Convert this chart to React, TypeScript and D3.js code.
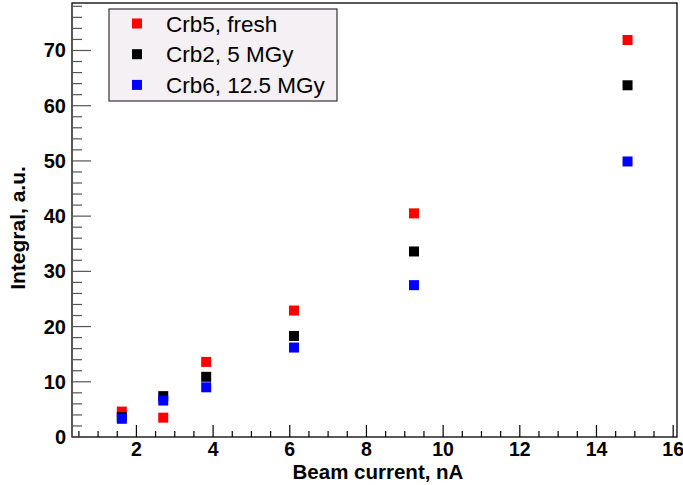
import React from 'react'
import * as d3 from 'd3'

// beam current, nA
const current = [1.62, 2.7, 3.82, 6.11, 9.24, 14.81]
// integral, a.u.
const fresh = [4.6, 3.5, 13.6, 22.9, 40.5, 71.9]
const mgy5 = [3.6, 7.4, 10.9, 18.3, 33.6, 63.7]
const mgy125 = [3.3, 6.6, 9.0, 16.2, 27.5, 49.9]

const seriesNames = ['Crb5, fresh', 'Crb2, 5 MGy', 'Crb6, 12.5 MGy']
const seriesColors = ['#ff0000', '#000000', '#0000ff']
const xTicks = [2, 4, 6, 8, 10, 12, 14, 16]
const yTicks = [0, 10, 20, 30, 40, 50, 60, 70]

const W = 683
const H = 485
const left = 72
const right = 677
const top = 3
const bottom = 437

export default function App() {
  const x = d3.scaleLinear().domain([0.32, 16.1]).range([left, right])
  const y = d3.scaleLinear().domain([0, 78.6]).range([bottom, top])
  const series = [fresh, mgy5, mgy125]

  const xMinor = d3.range(0.5, 16.01, 0.5)
  const yMinor = d3.range(0, 78.6, 2)
  const font = "'Liberation Sans', Arial, sans-serif"
  const m = 10

  return (
    <svg width={W} height={H} style={{ position: 'absolute', left: 0, top: 0 }} fontFamily={font}>
      <rect x={0} y={0} width={W} height={H} fill="#fff" />
      {/* frame */}
      <rect x={left} y={top} width={right - left} height={bottom - top} fill="none" stroke="#000" strokeWidth={1.3} />

      {/* x ticks */}
      {xMinor.map(v => {
        const major = Math.abs(v % 2) < 1e-6
        return (
          <line key={'xm' + v} x1={x(v)} x2={x(v)} y1={bottom} y2={bottom - (major ? 12 : 6)} stroke="#000" strokeWidth={1.2} />
        )
      })}
      {xTicks.map(v => (
        <text key={'xl' + v} x={x(v)} y={456} textAnchor="middle" fontSize={19.5} fontWeight="bold">{v}</text>
      ))}

      {/* y ticks */}
      {yMinor.map(v => {
        const major = Math.abs(v % 10) < 1e-6
        return (
          <line key={'ym' + v} x1={left} x2={left + (major ? 19 : 10)} y1={y(v)} y2={y(v)} stroke="#555" strokeWidth={1.2} />
        )
      })}
      {yTicks.map(v => (
        <text key={'yl' + v} x={66} y={y(v) + 7} textAnchor="end" fontSize={20} fontWeight="bold">{v}</text>
      ))}

      {/* axis titles */}
      <text x={378} y={479} textAnchor="middle" fontSize={20.5} fontWeight="bold">Beam current, nA</text>
      <text transform={`translate(25,228) rotate(-90)`} textAnchor="middle" fontSize={21} fontWeight="bold">Integral, a.u.</text>

      {/* points */}
      {series.map((vals, si) => (
        <g key={'s' + si}>
          {vals.map((v, i) => (
            <rect key={i} x={x(current[i]) - m / 2} y={y(v) - m / 2} width={m} height={m} fill={seriesColors[si]} />
          ))}
        </g>
      ))}

      {/* legend */}
      <rect x={109} y={9} width={228} height={92} fill="#f4f0f3" stroke="#333" strokeWidth={1.2} />
      {seriesNames.map((name, i) => (
        <g key={name}>
          <rect x={137 - m / 2} y={23.5 + i * 30.7 - m / 2} width={m} height={m} fill={seriesColors[i]} />
          <text x={166} y={23.5 + i * 30.7 + 8} fontSize={22.5}>{name}</text>
        </g>
      ))}
    </svg>
  )
}
